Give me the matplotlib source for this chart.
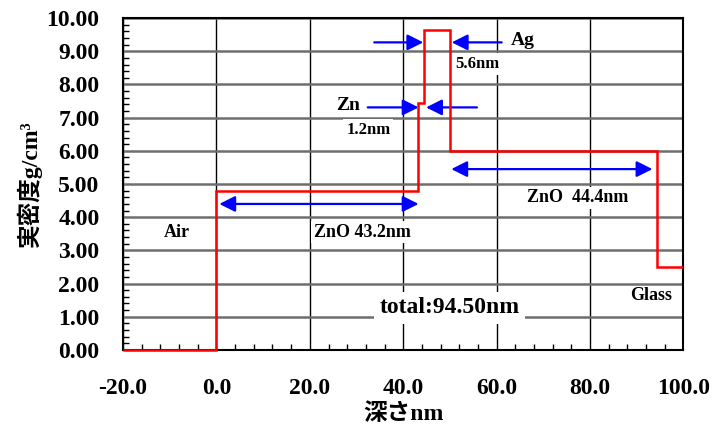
import numpy as np
import matplotlib
matplotlib.use("Agg")
import matplotlib.pyplot as plt
from matplotlib.ticker import MultipleLocator, FormatStrFormatter

plt.rcParams['font.family'] = ['Liberation Serif', 'Noto Sans CJK JP']
plt.rcParams['font.weight'] = 'bold'

# layer boundaries (nm) and density of each layer (g/cm3)
edges = [-20.0, 0.0, 43.2, 44.4, 50.0, 94.4, 100.0]
density = [0.0, 4.8, 7.45, 9.65, 6.0, 2.5]

# thickness arrows: (x_tail, x_tip, y)
single_arrows = [(33.8, 44.3, 9.27), (61.1, 50.4, 9.27),
                 (32.4, 43.3, 7.31), (55.8, 44.9, 7.31)]
double_arrows = [(0.6, 43.3, 4.40), (50.3, 93.4, 5.45)]

fig = plt.figure(figsize=(7.2, 4.32), dpi=100)
ax = fig.add_axes([0.171, 0.19, 0.778, 0.768])

ax.set_xlim(-20, 100)
ax.set_ylim(0, 10)
ax.xaxis.set_major_locator(MultipleLocator(20))
ax.xaxis.set_minor_locator(MultipleLocator(4))
ax.yaxis.set_major_locator(MultipleLocator(1))
ax.yaxis.set_minor_locator(MultipleLocator(0.2))
ax.xaxis.set_major_formatter(FormatStrFormatter('%.1f'))
ax.yaxis.set_major_formatter(FormatStrFormatter('%.2f'))
ax.tick_params(which='both', direction='in', top=False, right=False)
ax.tick_params(which='major', length=0, labelsize=17)
ax.tick_params(axis='x', which='major', pad=20)
ax.tick_params(axis='y', which='major', pad=17)
ax.tick_params(which='minor', length=4, width=1)
for s in ax.spines.values():
    s.set_linewidth(1.5)

ax.grid(axis='y', which='major', color='#6e6e6e', linewidth=1.8)
ax.grid(axis='x', which='major', color='black', linewidth=1.0)
ax.set_axisbelow(True)

ax.stairs(density, edges, baseline=None, color='red', linewidth=1.8,
          clip_on=False, zorder=5)

for x0, x1, y in single_arrows:
    ax.annotate('', xy=(x1, y), xytext=(x0, y),
                arrowprops=dict(arrowstyle='-|>,head_length=0.6,head_width=0.3',
                                color='blue', lw=1.6,
                                mutation_scale=16, shrinkA=0, shrinkB=0))
for x0, x1, y in double_arrows:
    ax.annotate('', xy=(x1, y), xytext=(x0, y),
                arrowprops=dict(arrowstyle='<|-|>,head_length=0.6,head_width=0.3',
                                color='blue', lw=1.6,
                                mutation_scale=16, shrinkA=0, shrinkB=0))

box = dict(facecolor='white', edgecolor='none', pad=2)
ax.text(63.1, 9.33, 'Ag', fontsize=14, ha='left', va='center')
ax.text(51.1, 8.62, '5.6nm', fontsize=12, ha='left', va='center', bbox=box)
ax.text(25.6, 7.37, 'Zn', fontsize=14, ha='left', va='center')
ax.text(27.8, 6.64, '1.2nm', fontsize=12, ha='left', va='center', bbox=box)
ax.text(77.3, 4.58, 'ZnO  44.4nm', fontsize=13, ha='center', va='center', bbox=box)
ax.text(31.2, 3.55, 'ZnO 43.2nm', fontsize=13, ha='center', va='center', bbox=box)
ax.text(-8.5, 3.55, 'Air', fontsize=13, ha='center', va='center')
ax.text(97.6, 1.63, 'Glass', fontsize=13, ha='right', va='center')
ax.text(49.9, 1.27, 'total:94.50nm', fontsize=17, ha='center', va='center',
        bbox=dict(facecolor='white', edgecolor='none', pad=4))

ax.set_xlabel('深さnm', fontsize=17, fontweight='bold', labelpad=3)
ax.set_ylabel('実密度g/cm³', fontsize=17, fontweight='bold', labelpad=3)

fig.savefig('out.png', dpi=100)
